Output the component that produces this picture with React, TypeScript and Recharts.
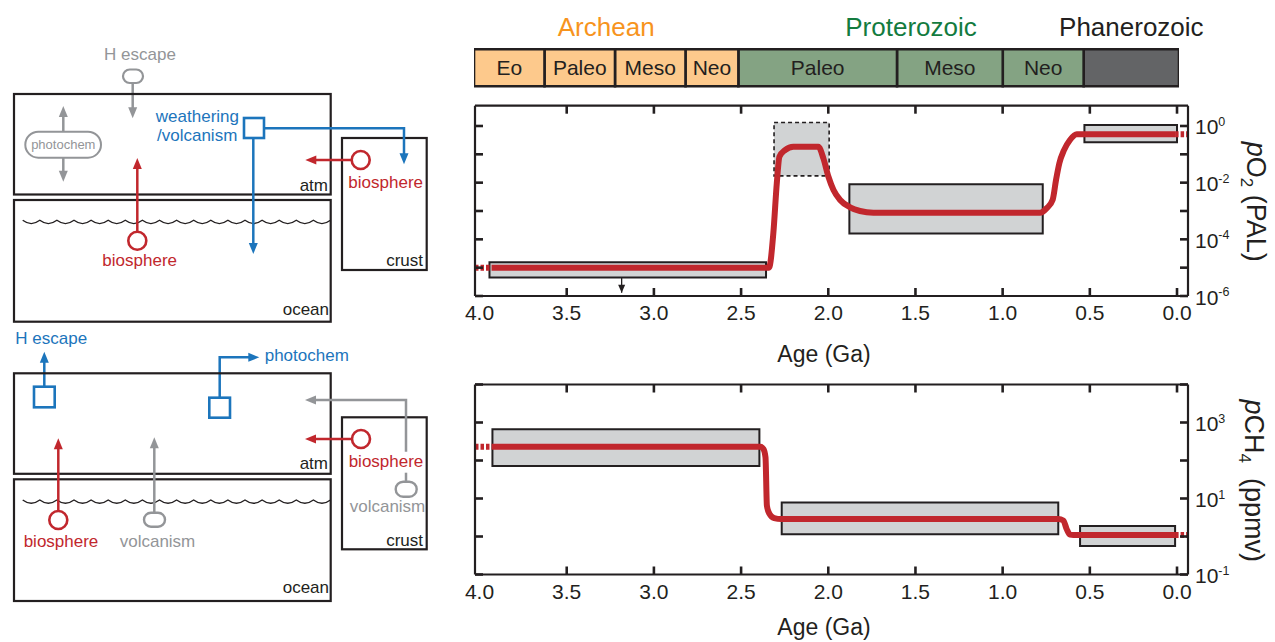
import { Bar, BarChart, ComposedChart, LabelList, Line, ReferenceArea, XAxis, YAxis } from "recharts";

const FONT = '"Liberation Sans", Arimo, Arial, Helvetica, sans-serif';
const INK = "#231f20";
const RED = "#c1272d";
const BLUE = "#1c75bc";
const GREY = "#939598";
const BOX_FILL = "#d1d3d4";
const TICK = 8;

// geologic timescale (Ga), left to right
const eonNames = ["Archean", "Proterozoic", "Phanerozoic"];
const eonStart = [4.0, 2.5, 0.541];
const eonEnd = [2.5, 0.541, 0];
const eraNames = ["Eo", "Paleo", "Meso", "Neo", "Paleo", "Meso", "Neo", ""];
const eraStart = [4.0, 3.6, 3.2, 2.8, 2.5, 1.6, 1.0, 0.541];
const eraEnd = [3.6, 3.2, 2.8, 2.5, 1.6, 1.0, 0.541, 0];
const eraEon = [0, 0, 0, 0, 1, 1, 1, 2];

const eonFill = ["#fdc98c", "#84a383", "#636466"];
const eonText = ["#f7941d", "#137b3f", INK];

const ageTicks = [4.0, 3.5, 3.0, 2.5, 2.0, 1.5, 1.0, 0.5, 0.0];
const ageTopTicks = [3.5, 3.0, 2.5, 2.0, 1.5, 1.0, 0.5, 0.0];
const ageDomain: [number, number] = [-0.063, 4.026];

// pO2 (PAL)
const o2Ticks = [1e-6, 1e-5, 1e-4, 1e-3, 1e-2, 1e-1, 1];
const o2Labelled = [-6, -4, -2, 0];
const o2Age = [3.93, 2.34, 2.315, 2.295, 2.28, 2.248, 2.2, 2.057, 2.028, 1.999, 1.97, 1.932, 1.875, 1.818, 1.741, 0.786, 0.747, 0.713, 0.694, 0.675, 0.648, 0.614, 0.575, 0.011];
const o2Pal = [1e-5, 1e-5, 1.66e-4, 0.01, 0.083, 0.141, 0.186, 0.186, 0.072, 0.0162, 0.0055, 0.00245, 0.00135, 0.001, 0.00087, 0.00087, 0.00126, 0.0025, 0.0123, 0.048, 0.141, 0.32, 0.51, 0.51];
const o2BoxFrom = [3.943, 2.311, 1.879, 0.531];
const o2BoxTo = [2.357, 1.995, 0.77, 0.0];
const o2BoxLow = [4.5e-6, 0.0174, 1.62e-4, 0.266];
const o2BoxHigh = [1.55e-5, 1.32, 0.0087, 1.08];
const o2BoxTentative = [false, true, false, false];
const o2LimitAge = [3.185, 3.185];
const o2LimitPal = [4.5e-6, 1.3e-6];

// pCH4 (ppmv)
const ch4Ticks = [0.1, 1, 10, 100, 1000, 10000];
const ch4Labelled = [-1, 1, 3];
const ch4Age = [3.93, 2.39, 2.372, 2.36, 2.352, 2.338, 2.31, 2.27, 0.681, 0.652, 0.633, 0.614, 0.595, 0.011];
const ch4Ppm = [229, 229, 200, 120, 6.5, 4.0, 3.05, 2.88, 2.88, 2.63, 1.58, 1.12, 1.1, 1.1];
const ch4BoxFrom = [3.926, 2.267, 0.556];
const ch4BoxTo = [2.395, 0.681, 0.011];
const ch4BoxLow = [72, 1.15, 0.56];
const ch4BoxHigh = [660, 7.8, 1.9];

const leadInAge = [4.026, 3.93];
const leadOutAge = [0.011, -0.063];

type Pt = { age: number; value: number };

function zip(ages: number[], values: number[]): Pt[] {
  return ages.map((age, i) => ({ age, value: values[i] }));
}

function BottomAgeTick(props: any) {
  const { x, y, payload } = props;
  const v = payload.value as number;
  return (
    <g>
      {v < 3.99 && <line x1={x} x2={x} y1={y} y2={y - TICK} stroke={INK} strokeWidth={2.6} />}
      <text x={x} y={y + 24} textAnchor="middle" fontSize={21} fill={INK}>
        {v.toFixed(1)}
      </text>
    </g>
  );
}

function TopAgeTick(props: any) {
  const { x, y } = props;
  return <line x1={x} x2={x} y1={y} y2={y + TICK} stroke={INK} strokeWidth={2.6} />;
}

function LeftTick(props: any) {
  const { x, y } = props;
  return <line x1={x} x2={x + TICK} y1={y} y2={y} stroke={INK} strokeWidth={2.6} />;
}

function rightTick(labelled: number[]) {
  return (props: any) => {
    const { x, y, payload } = props;
    const exp = Math.round(Math.log10(payload.value));
    return (
      <g>
        <line x1={x} x2={x - TICK} y1={y} y2={y} stroke={INK} strokeWidth={2.6} />
        {labelled.includes(exp) && (
          <text x={x + 7} y={y + 8.5} fontSize={21} fill={INK}>
            10
            <tspan dy={-8.5} fontSize={12.5}>
              {exp}
            </tspan>
          </text>
        )}
      </g>
    );
  };
}

type ProxyProps = {
  height: number;
  margin: { top: number; right: number; bottom: number; left: number };
  yDomain: [number, number];
  yTicks: number[];
  labelled: number[];
  boxFrom: number[];
  boxTo: number[];
  boxLow: number[];
  boxHigh: number[];
  tentative?: boolean[];
  ages: number[];
  values: number[];
  limit?: Pt[];
};

function ProxyChart(p: ProxyProps) {
  const main = zip(p.ages, p.values);
  const leadIn = zip(leadInAge, [p.values[0], p.values[0]]);
  const last = p.values[p.values.length - 1];
  const leadOut = zip(leadOutAge, [last, last]);
  const axisLine = { stroke: INK, strokeWidth: 2.2 };

  return (
    <ComposedChart width={1275} height={p.height} margin={p.margin}>
      <XAxis
        xAxisId="b"
        type="number"
        dataKey="age"
        domain={ageDomain}
        reversed
        allowDataOverflow
        ticks={ageTicks}
        interval={0}
        height={30}
        tickSize={0}
        tickMargin={0}
        axisLine={axisLine}
        tickLine={false}
        tick={BottomAgeTick}
      />
      <XAxis
        xAxisId="t"
        orientation="top"
        type="number"
        dataKey="age"
        domain={ageDomain}
        reversed
        allowDataOverflow
        ticks={ageTopTicks}
        interval={0}
        height={6}
        tickSize={0}
        tickMargin={0}
        axisLine={axisLine}
        tickLine={false}
        tick={TopAgeTick}
      />
      <YAxis
        yAxisId="l"
        type="number"
        scale="log"
        domain={p.yDomain}
        allowDataOverflow
        ticks={p.yTicks}
        interval={0}
        width={6}
        tickSize={0}
        tickMargin={0}
        axisLine={axisLine}
        tickLine={false}
        tick={LeftTick}
      />
      <YAxis
        yAxisId="r"
        orientation="right"
        type="number"
        scale="log"
        domain={p.yDomain}
        allowDataOverflow
        ticks={p.yTicks}
        interval={0}
        width={60}
        tickSize={0}
        tickMargin={0}
        axisLine={axisLine}
        tickLine={false}
        tick={rightTick(p.labelled)}
      />
      {p.boxFrom.map((from, i) => (
        <ReferenceArea
          key={`box${i}`}
          xAxisId="b"
          yAxisId="r"
          x1={from}
          x2={p.boxTo[i]}
          y1={p.boxLow[i]}
          y2={p.boxHigh[i]}
          fill={BOX_FILL}
          fillOpacity={1}
          stroke={INK}
          strokeWidth={p.tentative?.[i] ? 1.6 : 2}
          strokeDasharray={p.tentative?.[i] ? "4 3" : undefined}
          ifOverflow="visible"
        />
      ))}
      {p.limit && (
        <Line
          xAxisId="b"
          yAxisId="r"
          data={p.limit}
          dataKey="value"
          type="linear"
          stroke={INK}
          strokeWidth={1.3}
          isAnimationActive={false}
          activeDot={false}
          dot={(d: any) =>
            d.index === 1 ? (
              <path
                key="head"
                d={`M${d.cx - 3.5},${d.cy - 8} L${d.cx + 3.5},${d.cy - 8} L${d.cx},${d.cy} Z`}
                fill={INK}
              />
            ) : (
              <g key={`n${d.index}`} />
            )
          }
        />
      )}
      <Line
        xAxisId="b"
        yAxisId="r"
        data={leadIn}
        dataKey="value"
        type="linear"
        stroke={RED}
        strokeWidth={6}
        strokeDasharray="3.5 2"
        dot={false}
        activeDot={false}
        isAnimationActive={false}
      />
      <Line
        xAxisId="b"
        yAxisId="r"
        data={leadOut}
        dataKey="value"
        type="linear"
        stroke={RED}
        strokeWidth={6}
        strokeDasharray="3.5 2"
        dot={false}
        activeDot={false}
        isAnimationActive={false}
      />
      <Line
        xAxisId="b"
        yAxisId="r"
        data={main}
        dataKey="value"
        type="monotone"
        stroke={RED}
        strokeWidth={6}
        strokeLinejoin="round"
        dot={false}
        activeDot={false}
        isAnimationActive={false}
      />
    </ComposedChart>
  );
}

function Timescale() {
  const row: Record<string, number | string> = { row: "era" };
  eraStart.forEach((s, i) => {
    row[`e${i}`] = s - eraEnd[i];
  });
  const order = eraStart.map((_, i) => i).reverse();

  return (
    <BarChart
      width={1275}
      height={100}
      layout="vertical"
      data={[row]}
      margin={{ top: 49.3, right: 96, bottom: 14, left: 474 }}
      barCategoryGap={0}
      barGap={0}
    >
      <XAxis type="number" domain={[0, 4]} reversed allowDataOverflow hide />
      <YAxis type="category" dataKey="row" hide />
      {order.map((i) => (
        <Bar
          key={i}
          dataKey={`e${i}`}
          stackId="t"
          fill={eonFill[eraEon[i]]}
          stroke={INK}
          strokeWidth={2.6}
          isAnimationActive={false}
        >
          {eraNames[i] !== "" && (
            <LabelList
              dataKey={`e${i}`}
              position="center"
              formatter={() => eraNames[i]}
              fill={INK}
              fontSize={21}
            />
          )}
        </Bar>
      ))}
      {eonNames.map((name, i) => (
        <ReferenceArea
          key={name}
          x1={eonStart[i]}
          x2={eonEnd[i]}
          fill="none"
          fillOpacity={0}
          stroke="none"
          ifOverflow="visible"
          label={{ value: name, position: "top", offset: 13, fill: eonText[i], fontSize: 26 }}
        />
      ))}
    </BarChart>
  );
}

function Head({ x, y, dir, color }: { x: number; y: number; dir: string; color: string }) {
  const len = 11;
  const half = 4.5;
  let d = "";
  if (dir === "up") d = `M${x},${y} L${x - half},${y + len} L${x + half},${y + len} Z`;
  else if (dir === "down") d = `M${x},${y} L${x - half},${y - len} L${x + half},${y - len} Z`;
  else if (dir === "left") d = `M${x},${y} L${x + len},${y - half} L${x + len},${y + half} Z`;
  else d = `M${x},${y} L${x - len},${y - half} L${x - len},${y + half} Z`;
  return <path d={d} fill={color} />;
}

function Arrow({ pts, color }: { pts: number[][]; color: string }) {
  const n = pts.length;
  const [tx, ty] = pts[n - 1];
  const [px, py] = pts[n - 2];
  const dir = tx === px ? (ty < py ? "up" : "down") : tx < px ? "left" : "right";
  const back = 8;
  const sx = dir === "left" ? tx + back : dir === "right" ? tx - back : tx;
  const sy = dir === "up" ? ty + back : dir === "down" ? ty - back : ty;
  const shaft = [...pts.slice(0, n - 1), [sx, sy]];
  return (
    <g>
      <polyline points={shaft.map((q) => q.join(",")).join(" ")} fill="none" stroke={color} strokeWidth={2.5} />
      <Head x={tx} y={ty} dir={dir} color={color} />
    </g>
  );
}

function Waves({ y }: { y: number }) {
  const start = 22.7;
  const period = 17.1;
  let d = `M${start},${y}`;
  for (let x = start; x + period <= 331; x += period) d += ` q${period / 2},6.5 ${period},0`;
  return <path d={d} fill="none" stroke={INK} strokeWidth={1.3} />;
}

function Label({ x, y, text, color, anchor = "middle", size = 17 }: any) {
  return (
    <text x={x} y={y} fill={color} textAnchor={anchor} fontSize={size}>
      {text}
    </text>
  );
}

function Reservoirs({ dy, crustTop }: { dy: number; crustTop: number }) {
  return (
    <g fill="none" stroke={INK} strokeWidth={2.2}>
      <rect x={14} y={dy} width={316.7} height={100.5} />
      <rect x={14} y={dy + 106} width={316.7} height={121.7} />
      <rect x={342} y={crustTop} width={84.7} height={132} />
    </g>
  );
}

function Schematic() {
  return (
    <svg width={1275} height={642} style={{ position: "absolute", left: 0, top: 0 }} fontFamily={FONT}>
      {/* O2 budget */}
      <Label x={140} y={60} text="H escape" color={GREY} />
      <rect x={123} y={69.5} width={20} height={13.5} rx={6.75} fill="none" stroke={GREY} strokeWidth={2.2} />
      <Arrow pts={[[132.7, 83.3], [132.7, 118.3]]} color={GREY} />
      <Label x={328} y={190.7} text="atm" color={INK} anchor="end" />
      <Label x={329} y={315} text="ocean" color={INK} anchor="end" />
      <Label x={423} y={266} text="crust" color={INK} anchor="end" />
      <Reservoirs dy={94} crustTop={138} />
      <Waves y={220.3} />
      <Arrow pts={[[63.3, 131.7], [63.3, 106]]} color={GREY} />
      <Arrow pts={[[63.3, 157.7], [63.3, 181.7]]} color={GREY} />
      <rect x={25.3} y={131.7} width={75.7} height={26} rx={13} fill="#fff" stroke={GREY} strokeWidth={2} />
      <Label x={63.3} y={149} text="photochem" color={GREY} size={13} />
      <Arrow pts={[[137.3, 231.5], [137.3, 158]]} color={RED} />
      <circle cx={137.3} cy={240.7} r={9} fill="#fff" stroke={RED} strokeWidth={2.6} />
      <Label x={139.7} y={266} text="biosphere" color={RED} />
      <Label x={239} y={121.7} text="weathering" color={BLUE} anchor="end" />
      <Label x={237.3} y={141} text="/volcanism" color={BLUE} anchor="end" />
      <Arrow pts={[[264, 128.3], [404, 128.3], [404, 164.3]]} color={BLUE} />
      <Arrow pts={[[253.3, 138], [253.3, 254]]} color={BLUE} />
      <rect x={244} y={118} width={20} height={20} fill="#fff" stroke={BLUE} strokeWidth={2.6} />
      <Arrow pts={[[351.5, 160], [305.3, 160]]} color={RED} />
      <circle cx={360.7} cy={160} r={9} fill="#fff" stroke={RED} strokeWidth={2.6} />
      <Label x={385.7} y={187.7} text="biosphere" color={RED} />

      {/* CH4 budget */}
      <Label x={15.3} y={344.3} text="H escape" color={BLUE} anchor="start" />
      <Arrow pts={[[44.3, 386.7], [44.3, 351.7]]} color={BLUE} />
      <rect x={34} y={386.7} width={20.7} height={20.6} fill="#fff" stroke={BLUE} strokeWidth={2.6} />
      <Arrow pts={[[219.7, 397.7], [219.7, 357.3], [259.3, 357.3]]} color={BLUE} />
      <rect x={209.3} y={397.7} width={20.7} height={20} fill="#fff" stroke={BLUE} strokeWidth={2.6} />
      <Label x={264.7} y={360.7} text="photochem" color={BLUE} anchor="start" />
      <Label x={328} y={469.3} text="atm" color={INK} anchor="end" />
      <Label x={329} y={593.3} text="ocean" color={INK} anchor="end" />
      <Label x={423} y={546} text="crust" color={INK} anchor="end" />
      <Label x={387.5} y={511.7} text="volcanism" color={GREY} />
      <Reservoirs dy={373.3} crustTop={417.3} />
      <Waves y={500} />
      <Arrow pts={[[406, 451.7], [406, 400], [305, 400]]} color={GREY} />
      <line x1={406} x2={406} y1={472.7} y2={481.7} stroke={GREY} strokeWidth={2.5} />
      <rect x={395.7} y={481.7} width={21} height={15} rx={7.5} fill="#fff" stroke={GREY} strokeWidth={2.4} />
      <Arrow pts={[[352, 439], [305, 439]]} color={RED} />
      <circle cx={361} cy={439} r={9} fill="#fff" stroke={RED} strokeWidth={2.6} />
      <Label x={386} y={466.7} text="biosphere" color={RED} />
      <Arrow pts={[[58.3, 511], [58.3, 438.3]]} color={RED} />
      <circle cx={58.3} cy={520} r={9} fill="#fff" stroke={RED} strokeWidth={2.6} />
      <Label x={61} y={547.3} text="biosphere" color={RED} />
      <Arrow pts={[[154.3, 512.7], [154.3, 437.3]]} color={GREY} />
      <rect x={144} y={512.7} width={21} height={14} rx={7} fill="#fff" stroke={GREY} strokeWidth={2.4} />
      <Label x={157.5} y={547.3} text="volcanism" color={GREY} />

      {/* axis titles */}
      <Label x={824} y={361.7} text="Age (Ga)" color={INK} size={23} />
      <Label x={824} y={634.5} text="Age (Ga)" color={INK} size={23} />
      <text transform="translate(1246.7,201.7) rotate(90)" textAnchor="middle" fontSize={27} fill={INK}>
        <tspan fontStyle="italic">p</tspan>O<tspan dy={6} fontSize={17}>2</tspan>
        <tspan dy={-6}> (PAL)</tspan>
      </text>
      <text transform="translate(1245,480.8) rotate(90)" textAnchor="middle" fontSize={27} fill={INK}>
        <tspan fontStyle="italic">p</tspan>CH<tspan dy={6} fontSize={17}>4</tspan>
        <tspan dy={-6}>{"\u00a0 (ppmv)"}</tspan>
      </text>
    </svg>
  );
}

export default function App() {
  return (
    <div
      style={{
        position: "absolute",
        left: 0,
        top: 0,
        width: 1275,
        height: 642,
        background: "#fff",
        fontFamily: FONT,
        overflow: "hidden",
      }}
    >
      <Schematic />
      <div style={{ position: "absolute", left: 0, top: 0 }}>
        <Timescale />
      </div>
      <div style={{ position: "absolute", left: 0, top: 0 }}>
        <ProxyChart
          height={340}
          margin={{ top: 99.7, right: 27, bottom: 14, left: 469 }}
          yDomain={[1e-6, 5.2]}
          yTicks={o2Ticks}
          labelled={o2Labelled}
          boxFrom={o2BoxFrom}
          boxTo={o2BoxTo}
          boxLow={o2BoxLow}
          boxHigh={o2BoxHigh}
          tentative={o2BoxTentative}
          ages={o2Age}
          values={o2Pal}
          limit={zip(o2LimitAge, o2LimitPal)}
        />
      </div>
      <div style={{ position: "absolute", left: 0, top: 330 }}>
        <ProxyChart
          height={312}
          margin={{ top: 48.5, right: 27, bottom: 37.5, left: 469 }}
          yDomain={[0.1, 10000]}
          yTicks={ch4Ticks}
          labelled={ch4Labelled}
          boxFrom={ch4BoxFrom}
          boxTo={ch4BoxTo}
          boxLow={ch4BoxLow}
          boxHigh={ch4BoxHigh}
          ages={ch4Age}
          values={ch4Ppm}
        />
      </div>
    </div>
  );
}
